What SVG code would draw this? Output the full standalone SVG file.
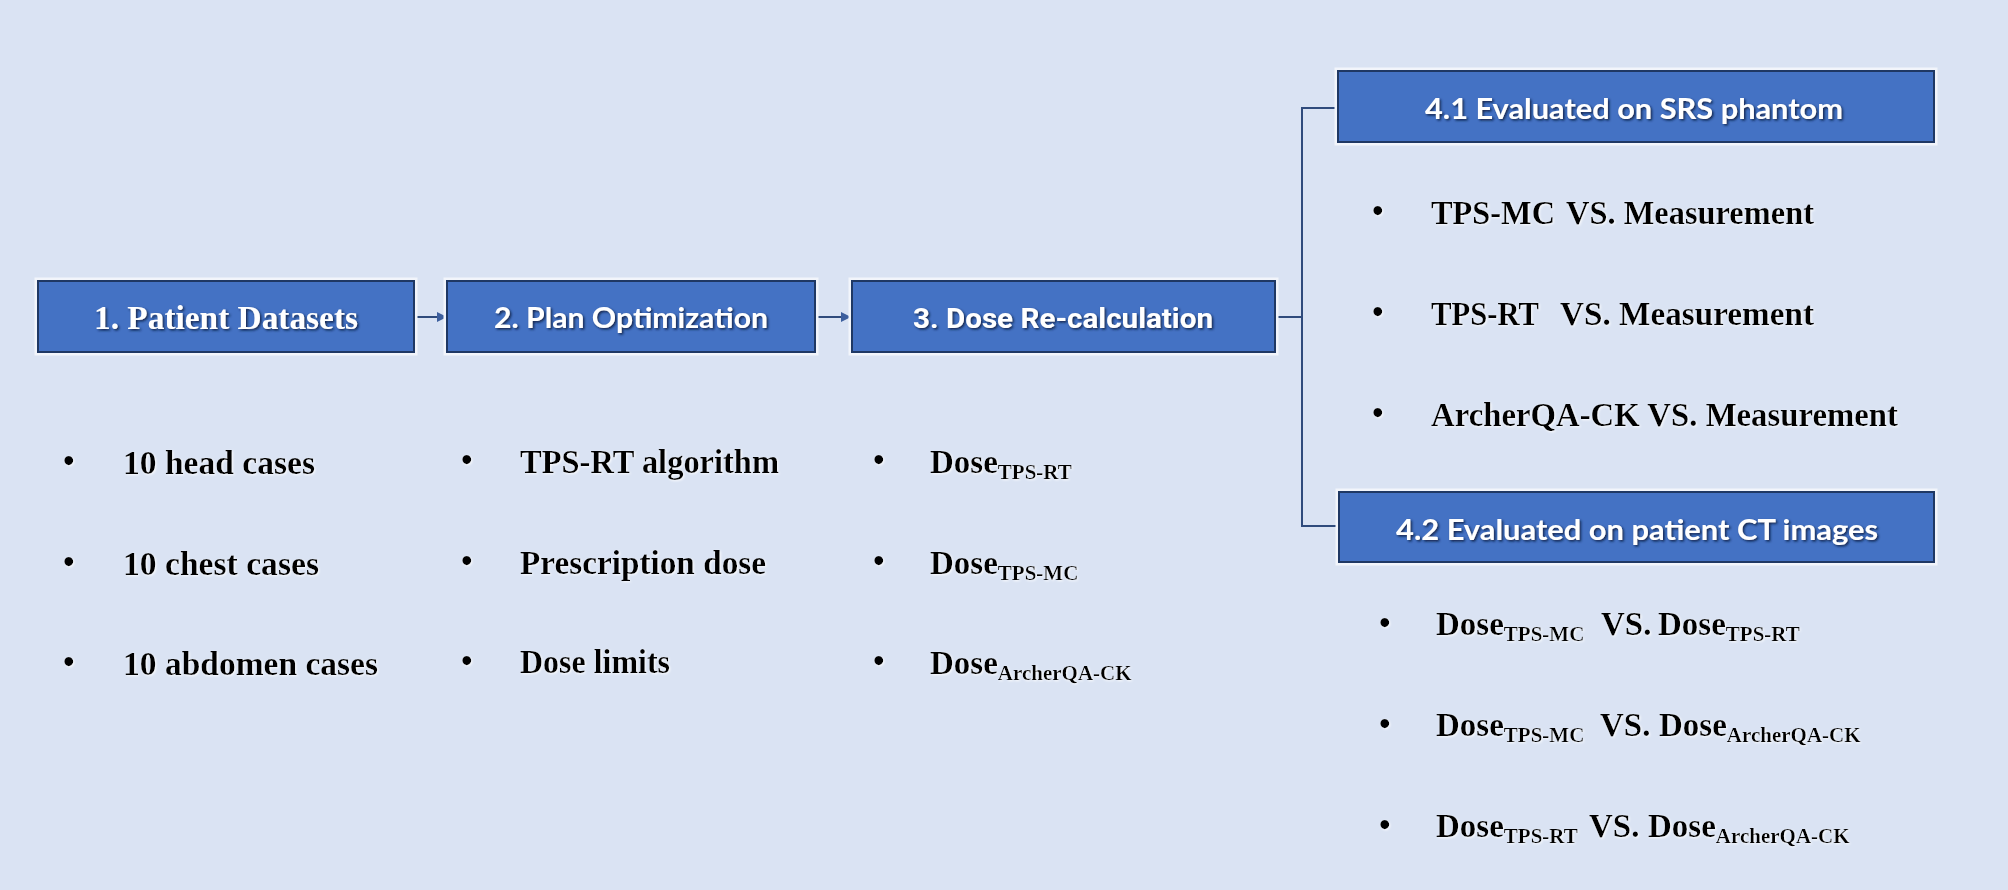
<svg xmlns="http://www.w3.org/2000/svg" width="2008" height="890" viewBox="0 0 2008 890">
<style>
.box{fill:#4472c4;stroke:#1f3864;stroke-width:2}
.halo{fill:none;stroke:#f2f5fb;stroke-width:3}
.bt{fill:#ffffff;font-weight:bold;text-anchor:middle}
.serif{font-family:"Liberation Serif","Times New Roman",serif}
.sans{font-family:Lato,"Open Sans","Liberation Sans",sans-serif}
.rob{font-family:Roboto,"Liberation Sans",sans-serif}
.body{font-family:"Liberation Serif","Times New Roman",serif;font-weight:bold;font-size:33px;fill:#000000}
.sub{font-size:21px}
.conn{fill:none;stroke:#2f4b7c;stroke-width:2}
</style>
<defs>
<filter id="sh" x="-5%" y="-20%" width="110%" height="140%">
<feDropShadow dx="1.5" dy="1.5" stdDeviation="0.8" flood-color="#0d1f40" flood-opacity="0.9"/>
</filter>
<filter id="glow" x="-5%" y="-20%" width="110%" height="140%">
<feDropShadow dx="1" dy="1" stdDeviation="0.8" flood-color="#ffffff" flood-opacity="0.9"/>
</filter>
<marker id="arr" viewBox="0 0 10 10" refX="10" refY="5" markerWidth="5" markerHeight="5" orient="auto" markerUnits="strokeWidth">
<path d="M0,0 L10,5 L0,10 z" fill="#3d5f9e"/>
</marker>
</defs>
<rect width="2008" height="890" fill="#dae3f3"/>

<g id="connectors">
<line class="conn" x1="414" y1="317" x2="447" y2="317" stroke="#3d5f9e" marker-end="url(#arr)"/>
<line class="conn" x1="815" y1="317" x2="851" y2="317" stroke="#3d5f9e" marker-end="url(#arr)"/>
<line class="conn" x1="1275" y1="317" x2="1302" y2="317" stroke="#7b8aa6"/>
<polyline class="conn" points="1338,108 1302,108 1302,526 1339,526"/>
</g>

<g id="node1">
<rect class="halo" x="36" y="279" width="380" height="75"/>
<rect class="box" x="38" y="281" width="376" height="71"/>
<text class="bt serif" x="226" y="329" font-size="33" textLength="264" lengthAdjust="spacingAndGlyphs" filter="url(#sh)">1. Patient Datasets</text>
</g>
<g id="node2">
<rect class="halo" x="445" y="279" width="372" height="75"/>
<rect class="box" x="447" y="281" width="368" height="71"/>
<text class="bt sans" x="631" y="328" font-size="28" textLength="274" lengthAdjust="spacingAndGlyphs" filter="url(#sh)">2. Plan Optimization</text>
</g>
<g id="node3">
<rect class="halo" x="850" y="279" width="427" height="75"/>
<rect class="box" x="852" y="281" width="423" height="71"/>
<text class="bt rob" x="1063" y="328" font-size="28" textLength="300" lengthAdjust="spacingAndGlyphs" filter="url(#sh)">3. Dose Re-calculation</text>
</g>
<g id="node41">
<rect class="halo" x="1336" y="69" width="600" height="75"/>
<rect class="box" x="1338" y="71" width="596" height="71"/>
<text class="bt sans" x="1634" y="119" font-size="29" textLength="418" lengthAdjust="spacingAndGlyphs" filter="url(#sh)">4.1 Evaluated  on SRS phantom</text>
</g>
<g id="node42">
<rect class="halo" x="1337" y="490" width="599" height="74"/>
<rect class="box" x="1339" y="492" width="595" height="70"/>
<text class="bt sans" x="1637" y="540" font-size="29" textLength="482" lengthAdjust="spacingAndGlyphs" filter="url(#sh)">4.2 Evaluated  on patient CT images</text>
</g>

<g id="list1" class="body" filter="url(#glow)">
<text x="63" y="472">•</text><text x="123" y="474" textLength="192" lengthAdjust="spacingAndGlyphs">10 head cases</text>
<text x="63" y="573">•</text><text x="123" y="575" textLength="196" lengthAdjust="spacingAndGlyphs">10 chest cases</text>
<text x="63" y="673">•</text><text x="123" y="675" textLength="255" lengthAdjust="spacingAndGlyphs">10 abdomen  cases</text>
</g>
<g id="list2" class="body" filter="url(#glow)">
<text x="461" y="471">•</text><text x="520" y="473" textLength="259" lengthAdjust="spacingAndGlyphs">TPS-RT  algorithm</text>
<text x="461" y="572">•</text><text x="520" y="574" textLength="246" lengthAdjust="spacingAndGlyphs">Prescription  dose</text>
<text x="461" y="672">•</text><text x="520" y="673" textLength="150" lengthAdjust="spacingAndGlyphs">Dose limits</text>
</g>
<g id="list3" class="body" filter="url(#glow)">
<text x="873" y="471">•</text><text x="930" y="473">Dose<tspan class="sub" dy="6">TPS-RT</tspan></text>
<text x="873" y="572">•</text><text x="930" y="574">Dose<tspan class="sub" dy="6">TPS-MC</tspan></text>
<text x="873" y="672">•</text><text x="930" y="674">Dose<tspan class="sub" dy="6">ArcherQA-CK</tspan></text>
</g>
<g id="list41" class="body" filter="url(#glow)">
<text x="1372" y="222">•</text><text x="1431" y="224"><tspan textLength="124" lengthAdjust="spacingAndGlyphs">TPS-MC</tspan><tspan x="1566" textLength="248" lengthAdjust="spacingAndGlyphs">VS. Measurement</tspan></text>
<text x="1372" y="323">•</text><text x="1431" y="325"><tspan textLength="108" lengthAdjust="spacingAndGlyphs">TPS-RT</tspan><tspan x="1560" textLength="254" lengthAdjust="spacingAndGlyphs">VS. Measurement</tspan></text>
<text x="1372" y="424">•</text><text x="1431" y="426" textLength="467" lengthAdjust="spacingAndGlyphs">ArcherQA-CK VS. Measurement</text>
</g>
<g id="list42" class="body" filter="url(#glow)">
<text x="1379" y="634">•</text><text x="1436" y="635">Dose<tspan class="sub" dy="6">TPS-MC</tspan><tspan x="1601" dy="-6">VS.</tspan><tspan x="1658">Dose</tspan><tspan class="sub" dy="6">TPS-RT</tspan></text>
<text x="1379" y="735">•</text><text x="1436" y="736">Dose<tspan class="sub" dy="6">TPS-MC</tspan><tspan x="1600" dy="-6">VS.</tspan><tspan x="1659">Dose</tspan><tspan class="sub" dy="6">ArcherQA-CK</tspan></text>
<text x="1379" y="836">•</text><text x="1436" y="837">Dose<tspan class="sub" dy="6">TPS-RT</tspan><tspan x="1589" dy="-6">VS.</tspan><tspan x="1648">Dose</tspan><tspan class="sub" dy="6">ArcherQA-CK</tspan></text>
</g>
</svg>
